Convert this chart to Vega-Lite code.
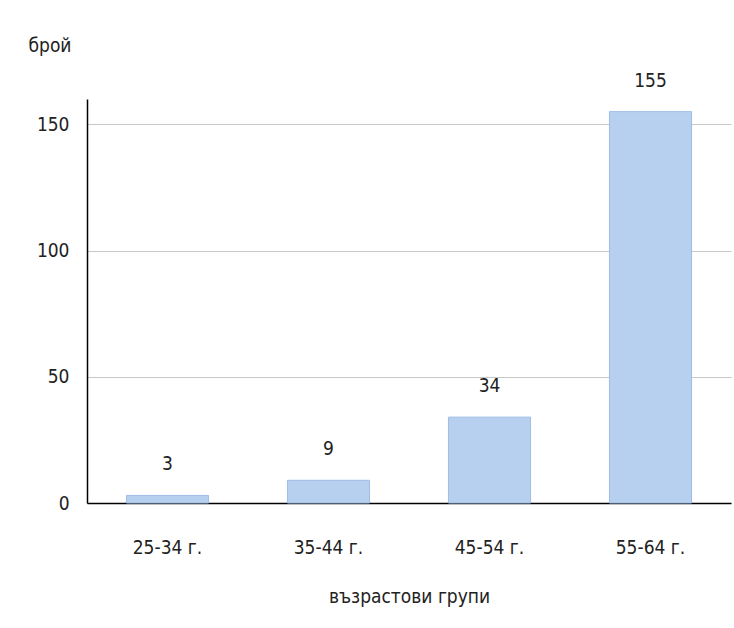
{
  "$schema": "https://vega.github.io/schema/vega-lite/v6.json",
  "autosize": {"type": "none"},
  "width": 644,
  "height": 404,
  "padding": {"left": 87, "top": 99, "right": 3, "bottom": 125},
  "background": "#ffffff",
  "config": {
    "view": {"stroke": null},
    "font": "DejaVu Sans Condensed, sans-serif",
    "text": {"font": "DejaVu Sans Condensed, sans-serif"}
  },
  "data": {
    "values": [
      {"group": "25-34 г.", "count": 3},
      {"group": "35-44 г.", "count": 9},
      {"group": "45-54 г.", "count": 34},
      {"group": "55-64 г.", "count": 155}
    ]
  },
  "encoding": {
    "x": {
      "field": "group",
      "type": "nominal",
      "sort": null,
      "scale": {"paddingInner": 0.49, "paddingOuter": 0.245},
      "axis": {
        "title": "възрастови групи",
        "titleFontSize": 19,
        "titleFontWeight": "normal",
        "titleColor": "#222222",
        "titlePadding": 30,
        "labelAngle": 0,
        "labelFontSize": 19,
        "labelColor": "#222222",
        "labelPadding": 35,
        "ticks": false,
        "domainColor": "#000000",
        "domainWidth": 1.5
      }
    },
    "y": {
      "field": "count",
      "type": "quantitative",
      "scale": {"domain": [0, 160], "nice": false},
      "axis": {
        "values": [0, 50, 100, 150],
        "title": "брой",
        "titleAngle": 0,
        "titleAlign": "left",
        "titleBaseline": "middle",
        "titleX": -59,
        "titleY": -54,
        "titleFontSize": 19,
        "titleFontWeight": "normal",
        "titleColor": "#222222",
        "labelFontSize": 19,
        "labelColor": "#222222",
        "labelPadding": 18,
        "ticks": false,
        "domainColor": "#000000",
        "domainWidth": 1.5,
        "gridColor": "#c8c8c8",
        "gridWidth": 1.2
      }
    }
  },
  "layer": [
    {
      "mark": {
        "type": "bar",
        "fill": "#b7d0ef",
        "stroke": "#9dbde6",
        "strokeWidth": 1
      }
    },
    {
      "mark": {
        "type": "text",
        "baseline": "middle",
        "dy": -31,
        "fontSize": 19,
        "color": "#222222"
      },
      "encoding": {"text": {"field": "count", "type": "quantitative"}}
    }
  ]
}
